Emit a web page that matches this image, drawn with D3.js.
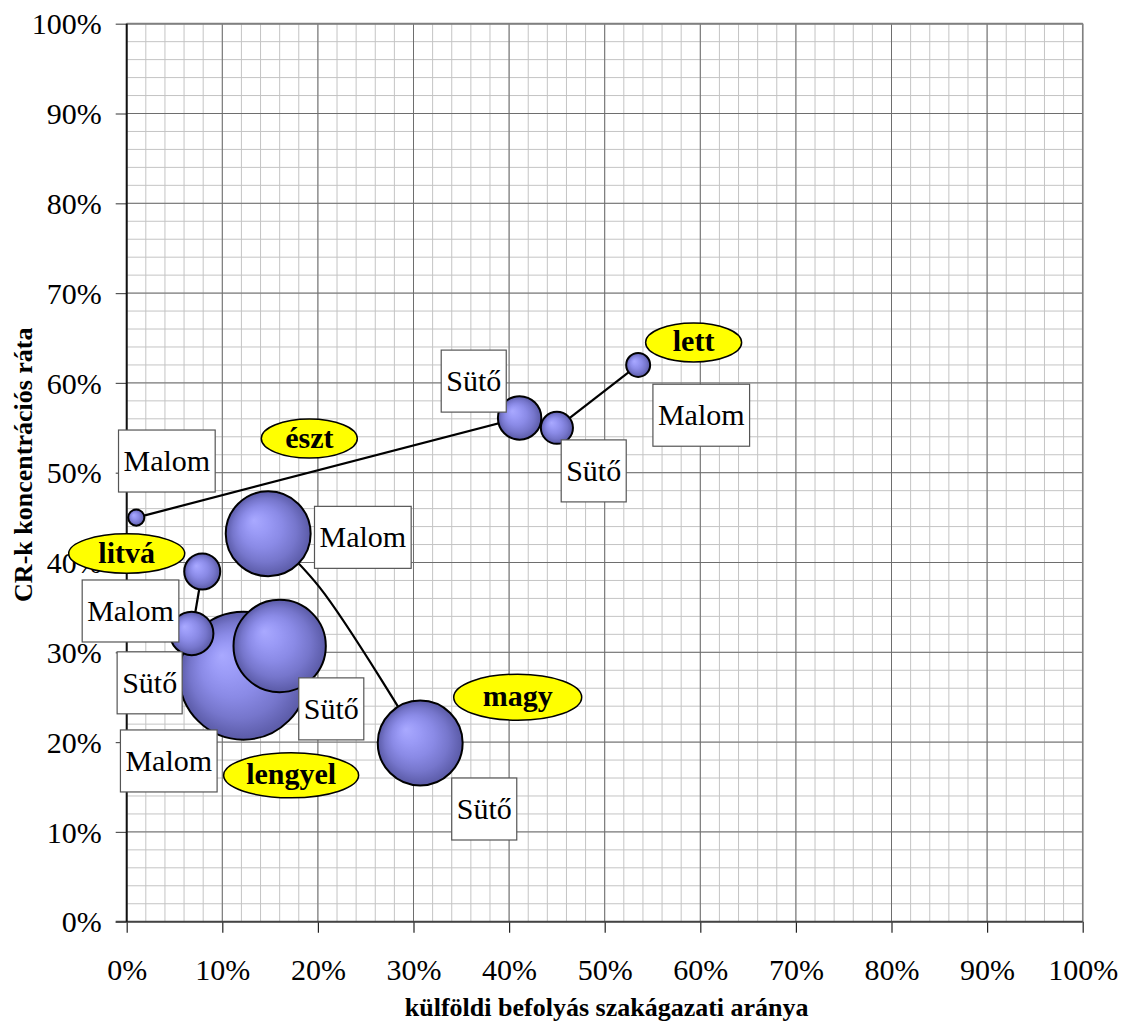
<!DOCTYPE html>
<html>
<head>
<meta charset="utf-8">
<script src="https://cdn.jsdelivr.net/npm/d3@7"></script>
<style>
  html, body { margin: 0; padding: 0; background: #ffffff; }
  svg { display: block; }
</style>
</head>
<body>
<div id="chart"></div>
<script>
// ---------------- DATA ----------------
const countries = ["észt", "lett", "litvá", "lengyel", "magy"];
const sectors = ["Malom", "Sütő"];
// Malom (mill) sector
const malomForeign = [0.010, 0.535, 0.079, 0.122, 0.148];
const malomCR      = [0.450, 0.620, 0.390, 0.274, 0.432];
const malomSize    = [1.6, 3.5, 7.9, 100, 44];
// Sütő (bakery) sector
const sutoForeign  = [0.411, 0.450, 0.068, 0.160, 0.307];
const sutoCR       = [0.561, 0.550, 0.321, 0.307, 0.199];
const sutoSize     = [11.5, 6.3, 11.5, 52, 44];
// extra bend point of the smoothed connector line (magy)
const magyBendForeign = [0.202];
const magyBendCR      = [0.372];
// axis ticks
const xTicks = [0, 0.1, 0.2, 0.3, 0.4, 0.5, 0.6, 0.7, 0.8, 0.9, 1.0];
const yTicks = [0, 0.1, 0.2, 0.3, 0.4, 0.5, 0.6, 0.7, 0.8, 0.9, 1.0];
const xTitle = "külföldi befolyás szakágazati aránya";
const yTitle = "CR-k koncentrációs ráta";

// ---------------- LAYOUT (annotation placement, data units) ----------------
const boxLabelX = {"Malom": [0.042, 0.601, 0.004, 0.044, 0.247],
                   "Sütő":  [0.363, 0.4885, 0.024, 0.214, 0.374]};
const boxLabelY = {"Malom": [0.513, 0.564, 0.346, 0.179, 0.428],
                   "Sütő":  [0.602, 0.502, 0.266, 0.237, 0.1255]};
const tagX  = [0.191, 0.593, 0.000, 0.172, 0.409];
const tagY  = [0.538, 0.645, 0.410, 0.163, 0.250];
const tagRx = [48, 48, 58, 67.5, 64];
const tagRy = [19.5, 19.5, 19.7, 22.5, 23];

// ---------------- SETUP ----------------
const W = 1138, H = 1025;
const plot = {left: 126.7, right: 1082.7, top: 23.7, bottom: 921.7};
const serif = "'Liberation Serif', 'Times New Roman', Times, serif";

const svg = d3.select("#chart").append("svg")
  .attr("width", W).attr("height", H)
  .attr("viewBox", `0 0 ${W} ${H}`);

const x = d3.scaleLinear().domain([0, 1]).range([plot.left, plot.right]);
const y = d3.scaleLinear().domain([0, 1]).range([plot.bottom, plot.top]);
const r = d3.scaleSqrt().domain([0, 100]).range([0, 64]);

// gradient for bubbles
const defs = svg.append("defs");
const grad = defs.append("radialGradient")
  .attr("id", "bubbleGrad")
  .attr("cx", "50%").attr("cy", "50%").attr("r", "50%")
  .attr("fx", "33%").attr("fy", "34%");
[["0%", "#a9a9ff"], ["25%", "#9a9af6"], ["50%", "#8a8ae6"], ["75%", "#7676cc"], ["100%", "#5a5aa6"]]
  .forEach(([o, c]) => grad.append("stop").attr("offset", o).attr("stop-color", c));

// ---------------- GRID ----------------
const minor = d3.range(0, 1.0001, 0.02);
const g = svg.append("g");
g.selectAll("line.vminor").data(minor).join("line")
  .attr("x1", d => x(d)).attr("x2", d => x(d))
  .attr("y1", plot.top).attr("y2", plot.bottom)
  .attr("stroke", "#c4c4c4").attr("stroke-width", 1);
g.selectAll("line.hminor").data(minor).join("line")
  .attr("class", "hminor")
  .attr("y1", d => y(d)).attr("y2", d => y(d))
  .attr("x1", plot.left).attr("x2", plot.right)
  .attr("stroke", "#c4c4c4").attr("stroke-width", 1);
g.selectAll("line.vmajor").data(xTicks).join("line")
  .attr("class", "vmajor")
  .attr("x1", d => x(d)).attr("x2", d => x(d))
  .attr("y1", plot.top).attr("y2", plot.bottom)
  .attr("stroke", "#6e6e6e").attr("stroke-width", 1);
g.selectAll("line.hmajor").data(yTicks).join("line")
  .attr("class", "hmajor")
  .attr("y1", d => y(d)).attr("y2", d => y(d))
  .attr("x1", plot.left).attr("x2", plot.right)
  .attr("stroke", "#6e6e6e").attr("stroke-width", 1);

// borders
svg.append("line").attr("x1", plot.left).attr("x2", plot.right)
  .attr("y1", plot.top).attr("y2", plot.top)
  .attr("stroke", "#808080").attr("stroke-width", 2);
svg.append("line").attr("x1", plot.right).attr("x2", plot.right)
  .attr("y1", plot.top).attr("y2", plot.bottom)
  .attr("stroke", "#808080").attr("stroke-width", 1.5);

// ---------------- AXES ----------------
const fmt = d3.format(".0%");
const yAxis = d3.axisLeft(y).tickValues(yTicks).tickFormat(fmt).tickSize(11).tickPadding(14);
const yg = svg.append("g").attr("transform", `translate(${plot.left},0)`).call(yAxis);
yg.select(".domain").remove();
yg.selectAll(".tick line").attr("stroke", "#555").attr("stroke-width", 1.2);
yg.selectAll(".tick text").attr("font-family", serif).attr("font-size", 30).attr("fill", "#000")
  .attr("dy", "0.34em");

const xAxis = d3.axisBottom(x).tickValues(xTicks).tickFormat(fmt).tickSize(11).tickPadding(26);
const xg = svg.append("g").attr("transform", `translate(0,${plot.bottom})`).call(xAxis);
xg.select(".domain").remove();
xg.selectAll(".tick line").attr("stroke", "#222").attr("stroke-width", 1.2);
xg.selectAll(".tick text").attr("font-family", serif).attr("font-size", 30).attr("fill", "#000");

svg.append("line").attr("x1", plot.left - 11).attr("x2", plot.right)
  .attr("y1", plot.bottom).attr("y2", plot.bottom)
  .attr("stroke", "#444").attr("stroke-width", 2);
svg.append("line").attr("x1", plot.left).attr("x2", plot.left)
  .attr("y1", plot.top).attr("y2", plot.bottom)
  .attr("stroke", "#111").attr("stroke-width", 2);

// titles
svg.append("text").text(xTitle)
  .attr("x", (plot.left + plot.right) / 2 + 2).attr("y", 1016)
  .attr("text-anchor", "middle").attr("font-family", serif)
  .attr("font-weight", "bold").attr("font-size", 26);
svg.append("text").text(yTitle)
  .attr("transform", `translate(32,${(plot.top + plot.bottom) / 2 - 8}) rotate(-90)`)
  .attr("text-anchor", "middle").attr("font-family", serif)
  .attr("font-weight", "bold").attr("font-size", 26);

// ---------------- CONNECTOR LINES ----------------
const lineGen = d3.line().x(d => x(d[0])).y(d => y(d[1]));
const smoothGen = d3.line().x(d => x(d[0])).y(d => y(d[1])).curve(d3.curveCatmullRom.alpha(0.5));
const lines = svg.append("g");
countries.forEach((c, i) => {
  let pts = [[malomForeign[i], malomCR[i]], [sutoForeign[i], sutoCR[i]]];
  let gen = lineGen;
  if (c === "magy") {
    pts = [[malomForeign[i], malomCR[i]], [magyBendForeign[0], magyBendCR[0]], [sutoForeign[i], sutoCR[i]]];
    gen = smoothGen;
  }
  lines.append("path").attr("d", gen(pts))
    .attr("fill", "none").attr("stroke", "#000").attr("stroke-width", 2.2);
});

// ---------------- BUBBLES ----------------
const bubbles = [];
countries.forEach((c, i) => {
  bubbles.push({country: c, sector: "Malom", fx: malomForeign[i], cr: malomCR[i], size: malomSize[i]});
  bubbles.push({country: c, sector: "Sütő", fx: sutoForeign[i], cr: sutoCR[i], size: sutoSize[i]});
});
bubbles.sort((a, b) => b.size - a.size);
svg.append("g").selectAll("circle").data(bubbles).join("circle")
  .attr("cx", d => x(d.fx)).attr("cy", d => y(d.cr)).attr("r", d => r(d.size))
  .attr("fill", "url(#bubbleGrad)").attr("stroke", "#000").attr("stroke-width", 2);

// ---------------- LABELS ----------------
const labG = svg.append("g");
sectors.forEach(s => {
  countries.forEach((c, i) => {
    const cx = x(boxLabelX[s][i]), cy = y(boxLabelY[s][i]);
    const grp = labG.append("g");
    const rect = grp.append("rect");
    const t = grp.append("text").text(s)
      .attr("x", cx).attr("y", cy + 10)
      .attr("text-anchor", "middle").attr("font-family", serif).attr("font-size", 30);
    const w = t.node().getComputedTextLength() + 10;
    rect.attr("x", cx - w / 2).attr("y", cy - 31).attr("width", w).attr("height", 62)
      .attr("fill", "#fff").attr("stroke", "#555").attr("stroke-width", 1.2);
  });
});
countries.forEach((c, i) => {
  const cx = x(tagX[i]), cy = y(tagY[i]);
  labG.append("ellipse").attr("cx", cx).attr("cy", cy).attr("rx", tagRx[i]).attr("ry", tagRy[i])
    .attr("fill", "#ffff00").attr("stroke", "#000").attr("stroke-width", 1.5);
  labG.append("text").text(c).attr("x", cx).attr("y", cy + 9)
    .attr("text-anchor", "middle").attr("font-family", serif)
    .attr("font-weight", "bold").attr("font-size", 30);
});
</script>
</body>
</html>
